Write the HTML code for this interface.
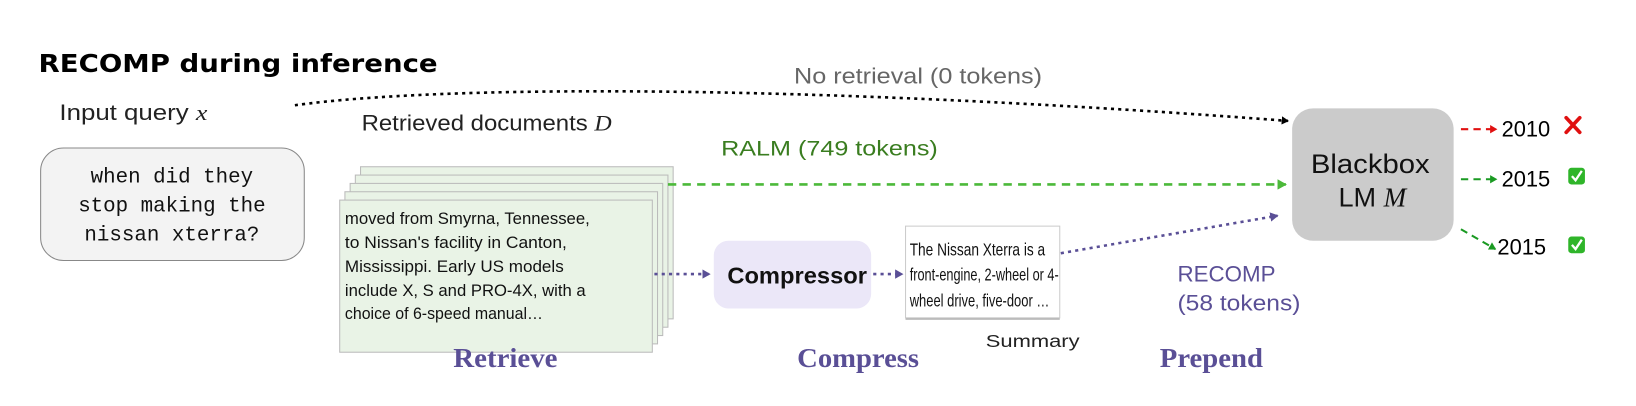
<!DOCTYPE html>
<html><head><meta charset="utf-8"><style>
html,body{margin:0;padding:0;background:#fff;width:1636px;height:406px;overflow:hidden}
svg{display:block}
text{font-family:"Liberation Sans",sans-serif}
.mono{font-family:"Liberation Mono",monospace}
.serif{font-family:"Liberation Serif",serif}
</style></head><body>
<svg width="1636" height="406" viewBox="0 0 1570 389.6" xmlns="http://www.w3.org/2000/svg">
<defs>
<marker id="ak" markerWidth="8" markerHeight="8" refX="6" refY="4" orient="auto" markerUnits="userSpaceOnUse"><path d="M0,0 L7,4 L0,8z" fill="#000"/></marker>
<marker id="ag" markerWidth="10" markerHeight="10" refX="8" refY="5" orient="auto" markerUnits="userSpaceOnUse"><path d="M0,0 L9,5 L0,10z" fill="#4cb93a"/></marker>
<marker id="ag2" markerWidth="8" markerHeight="8" refX="6" refY="4" orient="auto" markerUnits="userSpaceOnUse"><path d="M0,0 L7,4 L0,8z" fill="#1a9a22"/></marker>
<marker id="ar" markerWidth="8" markerHeight="8" refX="6" refY="4" orient="auto" markerUnits="userSpaceOnUse"><path d="M0,0 L7,4 L0,8z" fill="#e01010"/></marker>
<marker id="ap" markerWidth="9" markerHeight="9" refX="7" refY="4.5" orient="auto" markerUnits="userSpaceOnUse"><path d="M0,0 L8,4.5 L0,9z" fill="#5a4f96"/></marker>
</defs>
<text x="37" y="69" font-size="24" font-weight="bold" textLength="383" lengthAdjust="spacingAndGlyphs" style="font-family:'DejaVu Sans',sans-serif">RECOMP during inference</text>
<text x="57" y="115" font-size="21" fill="#222" textLength="142" lengthAdjust="spacingAndGlyphs">Input query <tspan class="serif" font-style="italic">x</tspan></text>
<rect x="39" y="142" width="253" height="108" rx="22" fill="#f3f3f3" stroke="#888" stroke-width="1"/>
<text class="mono" font-size="20" text-anchor="middle" fill="#111"><tspan x="165" y="175">when did they</tspan><tspan x="165" y="203">stop making the</tspan><tspan x="165" y="231">nissan xterra?</tspan></text>
<path d="M283,101 C420,82 760,80 1236,116" fill="none" stroke="#000" stroke-width="2.5" stroke-dasharray="3,4" marker-end="url(#ak)"/>
<text x="762" y="80" font-size="21" fill="#666" textLength="238" lengthAdjust="spacingAndGlyphs">No retrieval  (0 tokens)</text>
<text x="347" y="125" font-size="21" fill="#222" textLength="240" lengthAdjust="spacingAndGlyphs">Retrieved documents <tspan class="serif" font-style="italic">D</tspan></text>
<rect x="346" y="160" width="300" height="146" fill="#e9f3e6" stroke="#bbb"/>
<rect x="341" y="168" width="300" height="146" fill="#e9f3e6" stroke="#bbb"/>
<rect x="336" y="176" width="300" height="146" fill="#e9f3e6" stroke="#bbb"/>
<rect x="331" y="184" width="300" height="146" fill="#e9f3e6" stroke="#bbb"/>
<rect x="326" y="192" width="300" height="146" fill="#e9f3e6" stroke="#bbb"/>
<g font-size="16" fill="#111">
<text x="331" y="215" textLength="235" lengthAdjust="spacingAndGlyphs">moved from Smyrna, Tennessee,</text>
<text x="331" y="238" textLength="213" lengthAdjust="spacingAndGlyphs">to Nissan's facility in Canton,</text>
<text x="331" y="261" textLength="210" lengthAdjust="spacingAndGlyphs">Mississippi. Early US models</text>
<text x="331" y="284" textLength="231" lengthAdjust="spacingAndGlyphs">include X, S and PRO-4X, with a</text>
<text x="331" y="306" textLength="190" lengthAdjust="spacingAndGlyphs">choice of 6-speed manual…</text>
</g>
<text class="serif" x="435" y="352" font-size="26" font-weight="bold" fill="#5a4f96" textLength="100" lengthAdjust="spacingAndGlyphs">Retrieve</text>
<text x="692" y="149" font-size="20" fill="#3a7d20" textLength="208" lengthAdjust="spacingAndGlyphs">RALM  (749 tokens)</text>
<line x1="641" y1="177" x2="1234" y2="177" stroke="#4cb93a" stroke-width="2.5" stroke-dasharray="8,6" marker-end="url(#ag)"/>
<line x1="628" y1="263" x2="681" y2="263" stroke="#5a4f96" stroke-width="2.5" stroke-dasharray="3,4" marker-end="url(#ap)"/>
<rect x="685" y="231" width="151" height="65" rx="14" fill="#ebe7f8"/>
<text x="698" y="272" font-size="22" font-weight="bold" fill="#111" textLength="134" lengthAdjust="spacingAndGlyphs">Compressor</text>
<line x1="838" y1="263" x2="866" y2="263" stroke="#5a4f96" stroke-width="2.5" stroke-dasharray="3,4" marker-end="url(#ap)"/>
<rect x="869" y="217" width="148" height="88" fill="#fff" stroke="#ccc"/>
<line x1="869" y1="306" x2="1017" y2="306" stroke="#bbb" stroke-width="2"/>
<g font-size="17" fill="#111">
<text x="873" y="245" textLength="130" lengthAdjust="spacingAndGlyphs">The Nissan Xterra is a</text>
<text x="873" y="269" textLength="143" lengthAdjust="spacingAndGlyphs">front-engine, 2-wheel or 4-</text>
<text x="873" y="294" textLength="134" lengthAdjust="spacingAndGlyphs">wheel drive, five-door …</text>
</g>
<text x="946" y="333" font-size="17" fill="#222" textLength="90" lengthAdjust="spacingAndGlyphs">Summary</text>
<text class="serif" x="765" y="352" font-size="26" font-weight="bold" fill="#5a4f96" textLength="117" lengthAdjust="spacingAndGlyphs">Compress</text>
<text class="serif" x="1113" y="352" font-size="26" font-weight="bold" fill="#5a4f96" textLength="99" lengthAdjust="spacingAndGlyphs">Prepend</text>
<line x1="1018" y1="243" x2="1226" y2="207" stroke="#5a4f96" stroke-width="2.5" stroke-dasharray="3,4" marker-end="url(#ap)"/>
<text x="1130" y="270" font-size="21" fill="#5a4f96" textLength="94" lengthAdjust="spacingAndGlyphs">RECOMP</text>
<text x="1130" y="298" font-size="21" fill="#5a4f96" textLength="118" lengthAdjust="spacingAndGlyphs">(58 tokens)</text>
<rect x="1240" y="104" width="155" height="127" rx="20" fill="#cbcbcb"/>
<text x="1258" y="166" font-size="26" fill="#111" textLength="114" lengthAdjust="spacingAndGlyphs">Blackbox</text>
<text x="1317" y="198" font-size="26" text-anchor="middle" fill="#111">LM <tspan class="serif" font-style="italic">M</tspan></text>
<line x1="1402" y1="124" x2="1436" y2="124" stroke="#e01010" stroke-width="2" stroke-dasharray="7,5" marker-end="url(#ar)"/>
<line x1="1402" y1="172" x2="1436" y2="172" stroke="#1a9a22" stroke-width="2" stroke-dasharray="7,5" marker-end="url(#ag2)"/>
<line x1="1402" y1="220" x2="1435" y2="239" stroke="#1a9a22" stroke-width="2" stroke-dasharray="7,5" marker-end="url(#ag2)"/>
<text font-size="21" fill="#000"><tspan x="1441" y="131">2010</tspan><tspan x="1441" y="179">2015</tspan><tspan x="1437" y="244">2015</tspan></text>
<path d="M1503,113 L1516,127 M1516,113 L1503,127" stroke="#e01010" stroke-width="3.5" stroke-linecap="round"/>
<rect x="1505" y="161" width="16" height="16" rx="3" fill="#2fb52a"/>
<path d="M1508.5,169 L1512,173 L1518,164" stroke="#fff" stroke-width="2.2" fill="none"/>
<rect x="1505" y="227" width="16" height="16" rx="3" fill="#2fb52a"/>
<path d="M1508.5,235 L1512,239 L1518,230" stroke="#fff" stroke-width="2.2" fill="none"/>
</svg>
</body></html>
